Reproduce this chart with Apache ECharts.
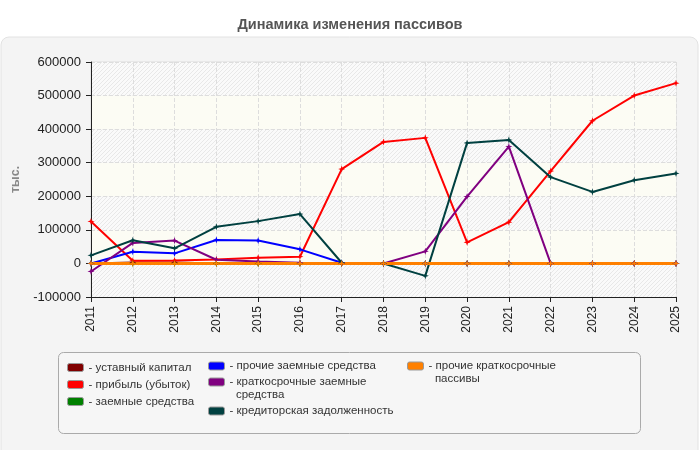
<!DOCTYPE html>
<html>
<head>
<meta charset="utf-8">
<script src="https://cdn.jsdelivr.net/npm/echarts@6/dist/echarts.min.js"></script>
<style>
  html, body { margin: 0; padding: 0; background: #fff; }
  #chart { width: 700px; height: 450px; }
</style>
</head>
<body>
<div id="chart"></div>
<script>
// данные по годам
const years = ['2011', '2012', '2013', '2014', '2015', '2016', '2017', '2018',
  '2019', '2020', '2021', '2022', '2023', '2024', '2025'];
const ustavKapital = [0, 3000, 3000, 0, 0, 0, 0, 0, 0, 0, 0, 0, 0, 0, 0];
const pribyl = [125000, 8000, 9000, 12000, 17000, 20000, 281000, 362000,
  374000, 63000, 123000, 275000, 425000, 500000, 537000];
const zaemnye = [0, 0, 0, 0, 0, 0, 0, 0, 0, 0, 0, 0, 0, 0, 0];
const prochieZaemnye = [0, 35000, 30000, 70000, 68000, 42000, 2000, 0, 0, 0, 0, 0, 0, 0, 0];
const kratkoZaemnye = [-24000, 61000, 68000, 11000, 6000, 2000, 0, 0, 36000,
  199000, 348000, 0, 0, 0, 0];
const kreditorka = [24000, 69000, 45000, 109000, 126000, 147000, 2000, 0,
  -37000, 359000, 368000, 257000, 213000, 248000, 268000];
const prochieKratko = [0, 0, 0, 0, 0, 0, 0, 0, 0, 0, 0, 0, 0, 0, 0];

const seriesList = [
  { name: 'уставный капитал', data: ustavKapital, color: '#800000' },
  { name: 'прибыль (убыток)', data: pribyl, color: '#ff0000' },
  { name: 'заемные средства', data: zaemnye, color: '#008000' },
  { name: 'прочие заемные средства', data: prochieZaemnye, color: '#0000ff' },
  { name: 'краткосрочные заемные средства', data: kratkoZaemnye, color: '#800080' },
  { name: 'кредиторская задолженность', data: kreditorka, color: '#004040' },
  { name: 'прочие краткосрочные пассивы', data: prochieKratko, color: '#ff8000', width: 3 }
];

// подписи легенды (пустая первая строка, чтобы значок встал на первую строку)
const legendLabels = {
  'краткосрочные заемные средства': '\n- краткосрочные заемные\n  средства',
  'прочие краткосрочные пассивы': '\n- прочие краткосрочные\n  пассивы'
};

// штриховка для полос фона
function makeHatch() {
  const c = document.createElement('canvas');
  c.width = 4;
  c.height = 4;
  const ctx = c.getContext('2d');
  ctx.fillStyle = '#fafafa';
  ctx.fillRect(0, 0, 4, 4);
  ctx.strokeStyle = '#e8e8e8';
  ctx.lineWidth = 1;
  ctx.beginPath();
  ctx.moveTo(0, 4); ctx.lineTo(4, 0);
  ctx.moveTo(-1, 1); ctx.lineTo(1, -1);
  ctx.moveTo(3, 5); ctx.lineTo(5, 3);
  ctx.stroke();
  return c;
}

const star = 'path://M0,-1L0.25,-0.25L1,0L0.25,0.25L0,1L-0.25,0.25L-1,0L-0.25,-0.25Z';

function legendBlock(names, left, top) {
  return {
    orient: 'vertical',
    left: left,
    top: top,
    padding: 0,
    itemGap: 4,
    itemWidth: 16,
    itemHeight: 8,
    icon: 'roundRect',
    selectedMode: false,
    itemStyle: { borderColor: '#999', borderWidth: 1 },
    textStyle: {
      fontSize: 11.5,
      lineHeight: 13,
      color: '#333',
      fontFamily: 'Liberation Sans, Arial, sans-serif'
    },
    formatter: function (name) {
      return legendLabels[name] || ('- ' + name);
    },
    data: names
  };
}

const chart = echarts.init(document.getElementById('chart'));

chart.setOption({
  animation: false,
  textStyle: { fontFamily: 'Liberation Sans, Arial, sans-serif' },
  title: {
    text: 'Динамика изменения пассивов',
    left: 'center',
    top: 12,
    textStyle: { fontSize: 14.5, fontWeight: 'bold', color: '#555' }
  },
  graphic: [
    {
      type: 'rect',
      z: -100,
      shape: { x: 1, y: 37, width: 697, height: 430, r: 8 },
      style: { fill: '#f4f4f4', stroke: '#e2e2e2', lineWidth: 1 }
    },
    {
      type: 'rect',
      z: -90,
      shape: { x: 58.5, y: 352.5, width: 582, height: 81, r: 5 },
      style: { fill: '#f6f6f6', stroke: '#aaa', lineWidth: 1 }
    }
  ],
  legend: [
    legendBlock(['уставный капитал', 'прибыль (убыток)', 'заемные средства'], 67, 361),
    legendBlock(['прочие заемные средства'], 208, 359.5),
    legendBlock(['краткосрочные заемные средства'], 208, 362.5),
    legendBlock(['кредиторская задолженность'], 208, 404.5),
    legendBlock(['прочие краткосрочные пассивы'], 407, 346.5)
  ],
  grid: {
    left: 91,
    right: 24,
    top: 62,
    bottom: 153,
    show: true,
    borderColor: '#ddd',
    borderWidth: 1,
    backgroundColor: 'transparent'
  },
  xAxis: {
    type: 'category',
    data: years,
    boundaryGap: false,
    axisLine: { onZero: false, lineStyle: { color: '#222', width: 1 } },
    axisTick: { show: true, length: 5, lineStyle: { color: '#222' } },
    axisLabel: { rotate: 90, margin: 9, fontSize: 12, color: '#222' },
    splitLine: { show: true, lineStyle: { color: '#ddd', type: 'dashed' } }
  },
  yAxis: {
    type: 'value',
    min: -100000,
    max: 600000,
    interval: 100000,
    name: 'тыс.',
    nameLocation: 'middle',
    nameGap: 56,
    nameRotate: 90,
    nameTextStyle: { color: '#888', fontWeight: 'bold', fontSize: 12.5 },
    axisLine: { show: true, lineStyle: { color: '#222', width: 1 } },
    axisTick: { show: true, length: 5, lineStyle: { color: '#222' } },
    axisLabel: {
      margin: 10,
      fontSize: 13,
      color: '#222',
      formatter: function (v) { return String(v); }
    },
    splitLine: { show: true, lineStyle: { color: '#ddd', type: 'dashed' } },
    splitArea: {
      show: true,
      areaStyle: { color: [{ image: makeHatch(), repeat: 'repeat' }, '#fcfcf4'] }
    }
  },
  series: seriesList.map(s => ({
    name: s.name,
    type: 'line',
    data: s.data,
    color: s.color,
    symbol: star,
    symbolSize: 7,
    showAllSymbol: true,
    lineStyle: { width: s.width || 2, color: s.color },
    itemStyle: { color: s.color }
  }))
});
</script>
</body>
</html>
